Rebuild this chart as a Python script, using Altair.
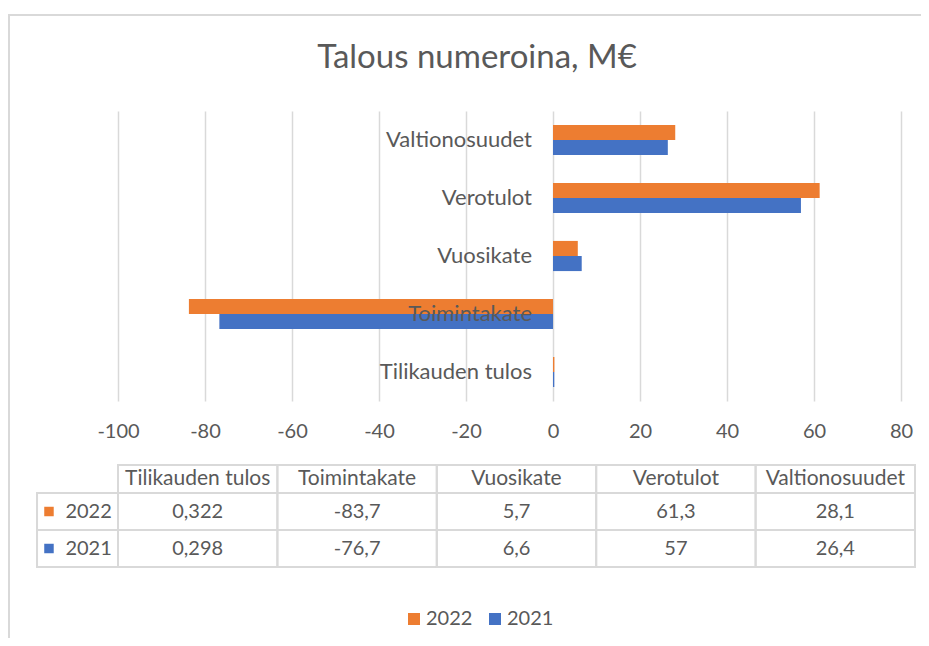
import altair as alt
import pandas as pd

# ---- data ----
categories = ["Tilikauden tulos", "Toimintakate", "Vuosikate", "Verotulot", "Valtionosuudet"]
years = ["2022", "2021"]
values_2022 = [0.322, -83.7, 5.7, 61.3, 28.1]
values_2021 = [0.298, -76.7, 6.6, 57, 26.4]
x_ticks = [-100, -80, -60, -40, -20, 0, 20, 40, 60, 80]
colors = ["#ED7D31", "#4472C4"]
title_text = "Talous numeroina, M€"

FONT = "Lato"
TXT = "#595959"
GRID = "#d9d9d9"
W, H = 783, 290
FS_WORD = 22
FS_NUM = 20

rows = []
for yr, vals in zip(years, [values_2022, values_2021]):
    for c, v in zip(categories, vals):
        rows.append({"cat": c, "year": yr, "value": v})
df = pd.DataFrame(rows)

chart_order = categories[::-1]
yscale = alt.Scale(domain=chart_order, paddingInner=0.48, paddingOuter=0.24)
xscale = alt.Scale(domain=[x_ticks[0], x_ticks[-1]], nice=False)
color_scale = alt.Scale(domain=years, range=colors)
legend = alt.Legend(
    orient="none", legendX=286, legendY=498, direction="horizontal", title=None,
    symbolType="square", symbolSize=144, symbolStrokeWidth=0,
    labelFont=FONT, labelFontSize=FS_NUM, labelColor=TXT, columnPadding=12, labelOffset=2,
)

frame = alt.Chart(pd.DataFrame({"a": [0]})).mark_rect(
    fillOpacity=0, stroke=GRID, strokeWidth=2
).encode(x=alt.value(-109), y=alt.value(-96), x2=alt.value(W + 200), y2=alt.value(H + 400))

title = alt.Chart(pd.DataFrame({"t": [title_text]})).mark_text(
    font=FONT, fontSize=33, color=TXT, align="center", baseline="middle"
).encode(x=alt.value(359), y=alt.value(-53), text="t:N")

bars = alt.Chart(df).mark_bar().encode(
    x=alt.X("value:Q", scale=xscale, axis=alt.Axis(
        values=x_ticks, grid=True, domain=False, ticks=False, labelPadding=20,
        labelFlush=False, labelOverlap=False,
        labelFont=FONT, labelFontSize=FS_NUM, labelColor=TXT, gridColor=GRID, gridWidth=1.5,
        title=None, labelExpr="datum.value + ''")),
    y=alt.Y("cat:N", scale=yscale, axis=None),
    yOffset=alt.YOffset("year:N", scale=alt.Scale(domain=years)),
    color=alt.Color("year:N", scale=color_scale, legend=legend),
)

labels = alt.Chart(pd.DataFrame({"cat": categories})).mark_text(
    align="right", baseline="middle", dx=-21, font=FONT, fontSize=FS_WORD, color=TXT
).encode(x=alt.datum(0), y=alt.Y("cat:N", scale=yscale, axis=None), text="cat:N")

main = alt.layer(frame, bars, labels, title)

# ---- data table ----
def fmt(v):
    return str(v).replace(".", ",")

HDR_TOP = -0.757
LBL_LEFT = -0.508
cells, htexts, vtexts, yearlab = [], [], [], []
for i, c in enumerate(categories):
    cells.append({"x": i, "x2": i + 1, "y": HDR_TOP, "y2": 0})
    htexts.append({"x": i + 0.5, "y": HDR_TOP / 2, "text": c})
for r, (yr, vals) in enumerate(zip(years, [values_2022, values_2021])):
    cells.append({"x": LBL_LEFT, "x2": 0, "y": r, "y2": r + 1})
    yearlab.append({"x": -0.33, "xs": -0.433, "y": r + 0.5, "text": yr, "year": yr})
    for i, v in enumerate(vals):
        cells.append({"x": i, "x2": i + 1, "y": r, "y2": r + 1})
        vtexts.append({"x": i + 0.5, "y": r + 0.5, "text": fmt(v)})

tx = alt.Scale(domain=[0, 5], range=[0, 797])
ty = alt.Scale(domain=[0, 2], range=[382, 456])

t_cells = alt.Chart(pd.DataFrame(cells)).mark_rect(
    fillOpacity=0, stroke=GRID, strokeWidth=2
).encode(
    x=alt.X("x:Q", scale=tx, axis=None), x2="x2:Q",
    y=alt.Y("y:Q", scale=ty, axis=None), y2="y2:Q",
)
t_head = alt.Chart(pd.DataFrame(htexts)).mark_text(
    font=FONT, fontSize=FS_WORD - 1, color=TXT, align="center", baseline="middle"
).encode(
    x=alt.X("x:Q", scale=tx, axis=None), y=alt.Y("y:Q", scale=ty, axis=None), text="text:N"
)
t_vals = alt.Chart(pd.DataFrame(vtexts)).mark_text(
    font=FONT, fontSize=FS_NUM, color=TXT, align="center", baseline="middle"
).encode(
    x=alt.X("x:Q", scale=tx, axis=None), y=alt.Y("y:Q", scale=ty, axis=None), text="text:N"
)
t_year = alt.Chart(pd.DataFrame(yearlab)).mark_text(
    font=FONT, fontSize=FS_NUM, color=TXT, align="left", baseline="middle"
).encode(
    x=alt.X("x:Q", scale=tx, axis=None), y=alt.Y("y:Q", scale=ty, axis=None), text="text:N"
)
t_sq = alt.Chart(pd.DataFrame(yearlab)).mark_square(size=90, opacity=1).encode(
    x=alt.X("xs:Q", scale=tx, axis=None), y=alt.Y("y:Q", scale=ty, axis=None),
    color=alt.Color("year:N", scale=color_scale, legend=legend),
)
table = alt.layer(t_cells, t_head, t_vals, t_year, t_sq)

chart = alt.layer(main, table).resolve_scale(x="independent", y="independent").properties(
    width=W, height=H,
    autosize=alt.AutoSizeParams(type="none"),
    padding={"left": 110, "top": 103, "right": 20, "bottom": 237},
    background="white",
).configure_view(stroke=None)

chart.save("out.html", embed_options={"renderer": "svg", "actions": False})
